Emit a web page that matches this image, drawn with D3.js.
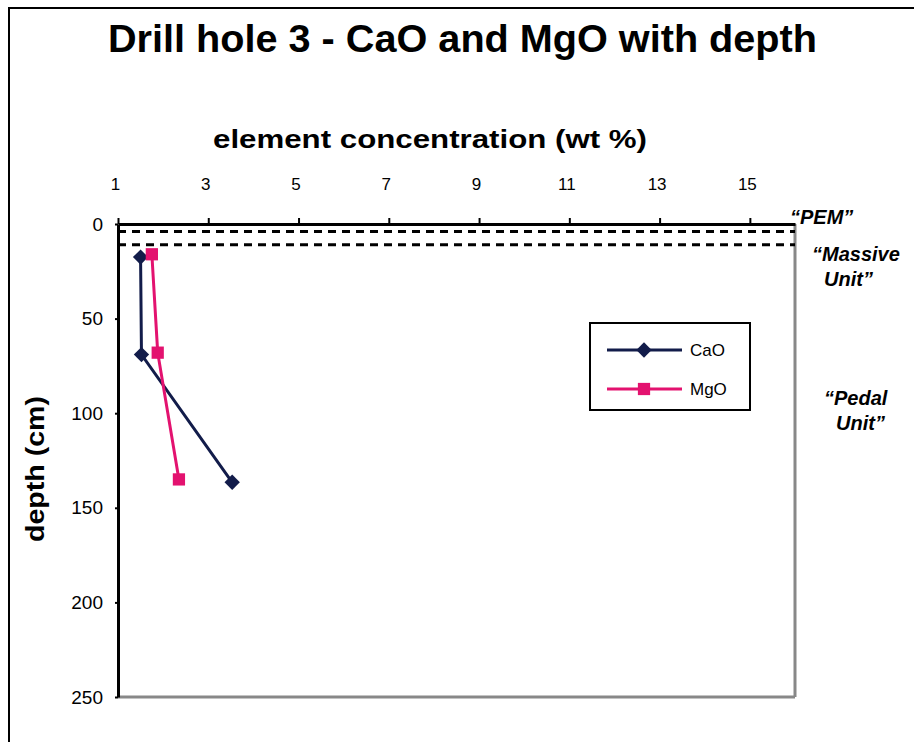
<!doctype html>
<html>
<head>
<meta charset="utf-8"/>
<title>Drill hole 3 - CaO and MgO with depth</title>
<script src="https://d3js.org/d3.v7.min.js"></script>
<style>
body { margin:0; background:#fff; }
text { font-family: "Liberation Sans", Arial, sans-serif; }
</style>
</head>
<body>
<script type="text/javascript">
// data
var caoValues = [1.5, 1.52, 3.53];
var caoDepths = [17.5, 69, 136.5];
var mgoValues = [1.75, 1.88, 2.35];
var mgoDepths = [16, 68, 135];
var xTicks = [1, 3, 5, 7, 9, 11, 13, 15];
var yTicks = [0, 50, 100, 150, 200, 250];
var unitLines = [4, 11];   // dashed boundaries, cm
var unitLabels = [
  {lines: ["\u201cPEM\u201d"], x: 790, y: 224},
  {lines: ["\u201cMassive", "Unit\u201d"], x: 812, y: 261},
  {lines: ["\u201cPedal", "Unit\u201d"], x: 824, y: 405}
];

var svg = d3.select("body").append("svg")
  .attr("width", 914)
  .attr("height", 742);

// outer frame of the figure
svg.append("rect")
  .attr("x", 9).attr("y", 8)
  .attr("width", 1000).attr("height", 1000)
  .attr("fill", "none").attr("stroke", "black").attr("stroke-width", 2);

var x = d3.scaleLinear().domain([1, 16]).range([118, 795]);
var y = d3.scaleLinear().domain([0, 250]).range([224, 697]);

// title
svg.append("text")
  .attr("x", 108).attr("y", 52)
  .attr("font-size", 38).attr("font-weight", "bold")
  .attr("textLength", 709).attr("lengthAdjust", "spacingAndGlyphs")
  .text("Drill hole 3 - CaO and MgO with depth");

svg.append("text")
  .attr("x", 213).attr("y", 148)
  .attr("font-size", 25).attr("font-weight", "bold")
  .attr("textLength", 434).attr("lengthAdjust", "spacingAndGlyphs")
  .text("element concentration  (wt %)");

svg.append("text")
  .attr("transform", "translate(44,542) rotate(-90)")
  .attr("font-size", 25).attr("font-weight", "bold")
  .attr("textLength", 146).attr("lengthAdjust", "spacingAndGlyphs")
  .text("depth (cm)");

// plot frame: right and bottom grey
svg.append("line")
  .attr("x1", x(16)).attr("x2", x(16)).attr("y1", y(0)).attr("y2", y(250))
  .attr("stroke", "#888").attr("stroke-width", 3);
svg.append("line")
  .attr("x1", x(1)).attr("x2", x(16)).attr("y1", y(250)).attr("y2", y(250))
  .attr("stroke", "#888").attr("stroke-width", 3);

// axes
var xAxis = d3.axisTop(x).tickValues(xTicks).tickSize(6).tickSizeOuter(0).tickFormat(d3.format("d"));
var gx = svg.append("g").attr("transform", "translate(0," + y(0) + ")").call(xAxis);
gx.select(".domain").attr("stroke", "black").attr("stroke-width", 3);
gx.selectAll(".tick line").attr("stroke", "black").attr("stroke-width", 2);
gx.selectAll(".tick text")
  .attr("font-family", "Liberation Sans, Arial, sans-serif")
  .attr("font-size", 17).attr("fill", "black")
  .attr("y", -34).attr("dx", -3);

var yAxis = d3.axisLeft(y).tickValues(yTicks).tickSize(3).tickSizeOuter(0);
var gy = svg.append("g").attr("transform", "translate(" + x(1) + ",0)").call(yAxis);
gy.select(".domain").attr("stroke", "black").attr("stroke-width", 3);
gy.selectAll(".tick line").attr("stroke", "black").attr("stroke-width", 2);
gy.selectAll(".tick text")
  .attr("font-family", "Liberation Sans, Arial, sans-serif")
  .attr("font-size", 19).attr("fill", "black")
  .attr("x", -15);

// dashed unit boundaries
svg.selectAll(".unitline").data(unitLines).enter().append("line")
  .attr("x1", x(1)).attr("x2", x(16))
  .attr("y1", function(d){ return y(d); })
  .attr("y2", function(d){ return y(d); })
  .attr("stroke", "black").attr("stroke-width", 3)
  .attr("stroke-dasharray", "8,6");

// unit labels
unitLabels.forEach(function(u){
  var t = svg.append("text")
    .attr("x", u.x).attr("y", u.y)
    .attr("font-size", 20).attr("font-weight", "bold").attr("font-style", "italic");
  u.lines.forEach(function(s, i){
    t.append("tspan").attr("x", u.x + (i ? 12 : 0)).attr("dy", i ? 25 : 0).text(s);
  });
});

var line = d3.line()
  .x(function(d){ return x(d[0]); })
  .y(function(d){ return y(d[1]); });

var cao = d3.zip(caoValues, caoDepths);
var mgo = d3.zip(mgoValues, mgoDepths);
var caoColor = "#121c4a", mgoColor = "#e3126f";

svg.append("path").datum(cao).attr("d", line)
  .attr("fill", "none").attr("stroke", caoColor).attr("stroke-width", 3);
svg.append("path").datum(mgo).attr("d", line)
  .attr("fill", "none").attr("stroke", mgoColor).attr("stroke-width", 3);

var diamond = d3.symbol().type(d3.symbolDiamond2).size(150);
var square = d3.symbol().type(d3.symbolSquare).size(150);

svg.selectAll(".cao").data(cao).enter().append("path")
  .attr("d", diamond)
  .attr("transform", function(d){ return "translate(" + x(d[0]) + "," + y(d[1]) + ")"; })
  .attr("fill", caoColor);
svg.selectAll(".mgo").data(mgo).enter().append("path")
  .attr("d", square)
  .attr("transform", function(d){ return "translate(" + x(d[0]) + "," + y(d[1]) + ")"; })
  .attr("fill", mgoColor);

// legend
var lg = svg.append("g").attr("transform", "translate(590,323)");
lg.append("rect").attr("width", 160).attr("height", 87)
  .attr("fill", "white").attr("stroke", "black").attr("stroke-width", 2);
var legendItems = [
  {name: "CaO", color: caoColor, sym: diamond, y: 27},
  {name: "MgO", color: mgoColor, sym: square, y: 66}
];
legendItems.forEach(function(it){
  lg.append("line").attr("x1", 17).attr("x2", 92).attr("y1", it.y).attr("y2", it.y)
    .attr("stroke", it.color).attr("stroke-width", 3);
  lg.append("path").attr("d", it.sym)
    .attr("transform", "translate(54," + it.y + ")").attr("fill", it.color);
  lg.append("text").attr("x", 100).attr("y", it.y + 6)
    .attr("font-size", 17).text(it.name);
});
</script>
</body>
</html>
